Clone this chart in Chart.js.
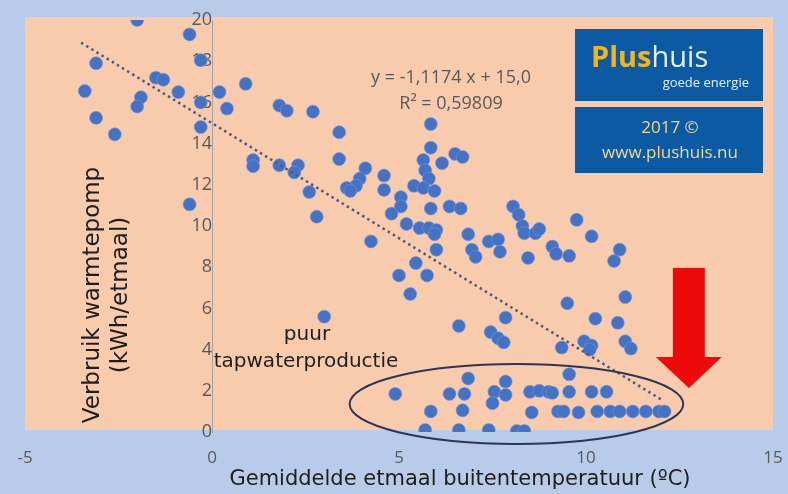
<!DOCTYPE html>
<html>
<head>
<meta charset="utf-8">
<script src="https://cdn.jsdelivr.net/npm/chart.js@4.4.1/dist/chart.umd.min.js"></script>
<style>
  html, body { margin: 0; padding: 0; background: #b8cce9; }
  #wrap { width: 788px; height: 494px; }
</style>
</head>
<body>
<div id="wrap"><canvas id="chart" width="788" height="494"></canvas></div>
<script>
// Daily outdoor temperature (ºC) and heat pump use (kWh/day)
var tempX = [
  -2.0, -0.6, -3.1, -0.3, -3.4, -1.5, -1.3, -1.9, -2.0, -0.9,
  -0.3, -0.3, -3.1, -2.6, 0.2, 0.4, 0.9, 1.8, 2.0, 2.7,
  3.4, 3.4, 1.1, 1.1, 1.8, 2.3, 2.2, 2.6, 2.8, -0.6,
  4.1, 3.95, 3.85, 3.6, 3.7, 4.6, 4.6, 5.05, 5.05, 4.8,
  5.2, 4.25, 5.45, 5.0, 5.3, 3.0, 5.75, 5.85, 5.85, 5.65,
  5.7, 5.8, 6.15, 6.5, 6.7, 5.4, 5.65, 5.95, 5.85, 6.35,
  6.65, 5.55, 5.8, 6.0, 5.95, 6.0, 6.85, 6.95, 7.05, 7.4,
  7.65, 7.7, 8.05, 8.2, 8.3, 8.35, 8.65, 8.75, 8.45, 9.1,
  9.2, 9.5, 7.85, 9.75, 10.15, 9.55, 10.9, 10.75, 11.05, 10.25,
  10.85, 9.35, 9.95, 10.15, 10.1, 11.05, 11.2, 6.6, 7.45, 7.65,
  7.8, 4.9, 6.85, 6.35, 6.75, 7.55, 7.85, 7.85, 7.5, 8.5,
  8.75, 9.0, 9.1, 9.55, 9.55, 10.15, 10.55, 5.85, 6.7, 8.55,
  9.25, 9.4, 9.8, 10.3, 10.65, 10.9, 11.25, 11.6, 11.95, 12.1,
  5.7, 6.6, 7.4, 8.15, 8.35
];
var usageY = [
  20.0, 19.3, 17.9, 18.05, 16.55, 17.2, 17.1, 16.25, 15.8, 16.5,
  16.0, 14.8, 15.25, 14.45, 16.5, 15.7, 16.9, 15.85, 15.6, 15.55,
  14.55, 13.25, 13.2, 12.9, 12.95, 12.95, 12.6, 11.65, 10.45, 11.05,
  12.8, 12.3, 11.95, 11.85, 11.7, 12.45, 11.75, 11.4, 10.95, 10.6,
  10.1, 9.25, 8.2, 7.6, 6.7, 5.6, 7.6, 14.95, 13.8, 13.2,
  12.7, 12.3, 13.05, 13.5, 13.35, 11.95, 11.85, 11.7, 10.85, 10.95,
  10.85, 9.9, 9.9, 9.8, 9.6, 8.85, 9.6, 8.85, 8.5, 9.25,
  9.35, 8.75, 10.95, 10.55, 10.0, 9.65, 9.65, 9.85, 8.45, 9.0,
  8.65, 6.25, 5.55, 10.3, 9.5, 8.55, 8.85, 8.3, 6.55, 5.5,
  5.3, 4.1, 4.4, 4.2, 4.0, 4.4, 4.05, 5.15, 4.85, 4.55,
  4.35, 1.85, 2.6, 1.85, 1.85, 1.95, 2.45, 1.8, 1.4, 1.95,
  2.0, 1.95, 1.9, 1.95, 2.8, 1.95, 1.95, 1.0, 1.05, 0.95,
  1.0, 1.0, 0.95, 1.0, 1.0, 1.0, 1.0, 1.0, 1.0, 1.0,
  0.1, 0.1, 0.1, 0.05, 0.05
];
// linear trendline end points (y = -1,1174 x + 15,0)
var trendX = [-3.5, 12.0];
var trendY = [18.9, 1.59];

var xTicks = [-5, 0, 5, 10, 15];
var yTicks = [0, 2, 4, 6, 8, 10, 12, 14, 16, 18, 20];

var points = tempX.map(function (x, i) { return { x: x, y: usageY[i] }; });
var trend = trendX.map(function (x, i) { return { x: x, y: trendY[i] }; });

var BLUE_BG = '#b8cce9';
var PEACH = '#f8cbad';
var TXT = '#595959';

// backgrounds: blue page, peach plot area
var bgPlugin = {
  id: 'bgPlugin',
  beforeDraw: function (chart) {
    var c = chart.ctx, a = chart.chartArea;
    c.save();
    c.fillStyle = BLUE_BG;
    c.fillRect(0, 0, chart.width, chart.height);
    c.fillStyle = PEACH;
    c.fillRect(a.left, a.top - 3, a.right - a.left, a.bottom - a.top + 1);
    c.restore();
  }
};

// ellipse, arrow, logo and texts
var extrasPlugin = {
  id: 'extrasPlugin',
  afterDatasetsDraw: function (chart) {
    var c = chart.ctx, xs = chart.scales.x, ys = chart.scales.y;
    c.save();

    // ellipse round the tap water days
    var cx = xs.getPixelForValue(8.14), cy = ys.getPixelForValue(1.36);
    var rx = xs.getPixelForValue(12.6) - cx, ry = cy - ys.getPixelForValue(3.3);
    c.beginPath();
    c.ellipse(cx, cy, rx, ry, 0, 0, Math.PI * 2);
    c.strokeStyle = '#2c3456';
    c.lineWidth = 2;
    c.stroke();

    // red arrow
    var ax = xs.getPixelForValue(12.75);
    var top = ys.getPixelForValue(7.96), neck = ys.getPixelForValue(3.64), tip = ys.getPixelForValue(2.14);
    c.beginPath();
    c.moveTo(ax - 16, top);
    c.lineTo(ax + 16, top);
    c.lineTo(ax + 16, neck);
    c.lineTo(ax + 33, neck);
    c.lineTo(ax, tip);
    c.lineTo(ax - 33, neck);
    c.lineTo(ax - 16, neck);
    c.closePath();
    c.fillStyle = '#ee0a0a';
    c.fill();

    // labels
    c.fillStyle = '#1e1e1e';
    c.font = '20px "DejaVu Sans"';
    c.textAlign = 'center';
    c.textBaseline = 'middle';
    c.fillText('puur', 307, 335);
    c.fillText('tapwaterproductie', 306, 362);

    // axis titles
    c.font = '21px "DejaVu Sans"';
    c.fillText('Gemiddelde etmaal buitentemperatuur (ºC)', 460, 480);
    c.save();
    c.translate(93, 295);
    c.rotate(-Math.PI / 2);
    c.font = '23px "DejaVu Sans"';
    c.fillText('Verbruik warmtepomp', 0, 0);
    c.fillText('(kWh/etmaal)', 0, 28);
    c.restore();

    // trendline equation
    c.fillStyle = TXT;
    c.font = '18px "Open Sans"';
    c.fillText('y = -1,1174 x + 15,0', 451, 78);
    c.fillText('R\u00b2 = 0,59809', 451, 104);

    // logo boxes
    c.fillStyle = '#0d5aa4';
    c.fillRect(575, 29, 188, 72);
    c.fillRect(575, 107, 188, 66);
    c.textAlign = 'left';
    c.textBaseline = 'alphabetic';
    c.font = 'bold 29px "Open Sans"';
    c.fillStyle = '#f2b51f';
    c.fillText('Plus', 591, 67);
    var w = c.measureText('Plus').width;
    c.font = '29px "Open Sans"';
    c.fillStyle = '#e6eef8';
    c.fillText('huis', 591 + w, 67);
    c.font = '13px "Open Sans"';
    c.textAlign = 'right';
    c.fillText('goede energie', 749, 87);
    c.textAlign = 'center';
    c.textBaseline = 'middle';
    c.font = '17px "Open Sans"';
    c.fillStyle = '#f3d98c';
    c.fillText('2017 \u00a9', 670, 128);
    c.fillText('www.plushuis.nu', 670, 153);

    c.restore();
  }
};

new Chart(document.getElementById('chart'), {
  type: 'scatter',
  data: {
    datasets: [{
      label: 'trend',
      type: 'line',
      data: trend,
      borderColor: '#4d5b78',
      borderWidth: 2.5,
      borderDash: [2.5, 3.5],
      pointRadius: 0,
      fill: false,
      order: 0
    }, {
      label: 'verbruik',
      data: points,
      backgroundColor: '#4472c4',
      borderColor: 'rgba(120,150,215,0.6)',
      borderWidth: 1,
      pointRadius: 6.5,
      order: 1
    }]
  },
  options: {
    responsive: false,
    animation: false,
    layout: { padding: { left: 25, right: 15, top: 20, bottom: 0 } },
    plugins: {
      legend: { display: false },
      tooltip: { enabled: false }
    },
    scales: {
      x: {
        type: 'linear',
        min: -5,
        max: 15,
        afterBuildTicks: function (axis) {
          axis.ticks = xTicks.map(function (v) { return { value: v }; });
        },
        afterFit: function (axis) {
          axis.height = 62;
          axis.paddingLeft = 0;
          axis.paddingRight = 0;
        },
        grid: { display: false, drawTicks: false },
        border: { display: false },
        ticks: { color: TXT, font: { size: 17, family: 'Open Sans' }, padding: 16, maxRotation: 0 }
      },
      y: {
        type: 'linear',
        position: { x: 0 },
        min: 0,
        max: 20,
        afterBuildTicks: function (axis) {
          axis.ticks = yTicks.map(function (v) { return { value: v }; });
        },
        afterFit: function (axis) {
          axis.paddingTop = 0;
          axis.paddingBottom = 0;
        },
        grid: { display: false, drawTicks: false },
        border: { display: true, color: '#a9a1a0', width: 1 },
        ticks: { color: TXT, font: { size: 18, family: 'Open Sans' }, padding: 18 }
      }
    }
  },
  plugins: [bgPlugin, extrasPlugin]
});
</script>
</body>
</html>
